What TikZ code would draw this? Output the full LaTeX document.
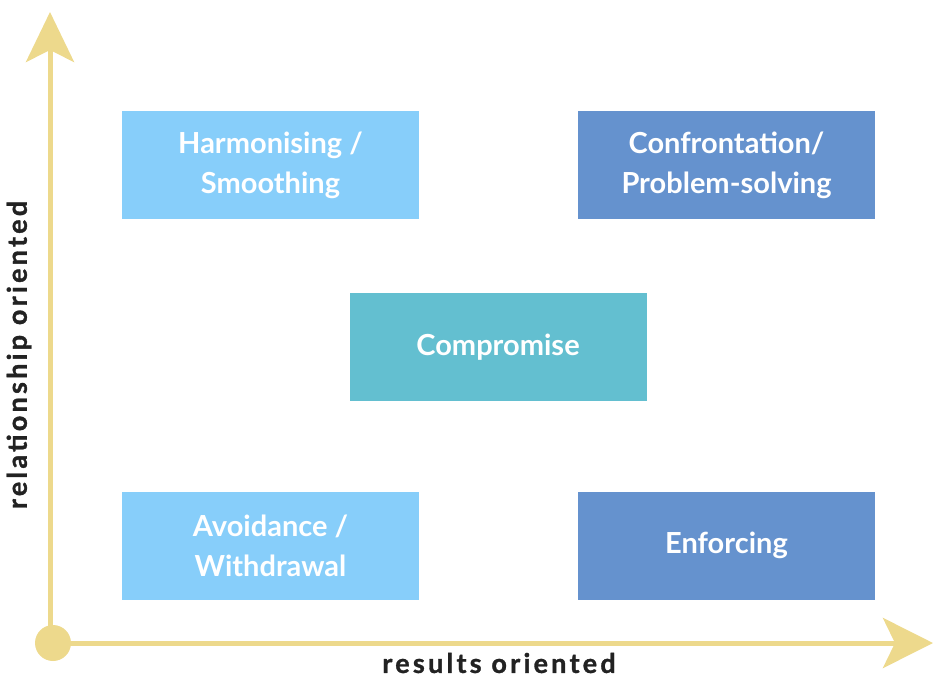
\documentclass[tikz,border=0pt]{standalone}
\usepackage{fontspec}
\setmainfont{Lato}
\newfontfamily\axisfont[LetterSpace=12,BoldFeatures={FakeBold=1.2}]{Lato}
\usetikzlibrary{arrows.meta}
\definecolor{axisc}{HTML}{EDD98C}
\definecolor{lightb}{HTML}{87CEFA}
\definecolor{darkb}{HTML}{6592CE}
\definecolor{tealb}{HTML}{63BFD0}
\definecolor{labc}{HTML}{222222}
\tikzset{
  quad/.style={minimum width=297pt, minimum height=108pt, inner sep=0pt,
    text=white, font=\bfseries\fontsize{29}{40}\selectfont, align=center},
  axislab/.style={text=labc, font=\axisfont\bfseries\fontsize{27}{30}\selectfont},
  axisline/.style={draw=axisc, line width=5pt}
}
\begin{document}
\begin{tikzpicture}[x=1pt,y=-1pt]
\useasboundingbox (0,0) rectangle (934,677);
\node[quad, fill=lightb] (harm) at (270.5,165) {Harmonising /\\Smoothing};
\node[quad, fill=darkb] (conf) at (726.5,165) {Confrontation/\\Problem-solving};
\node[quad, fill=tealb] (comp) at (498,347) {Compromise};
\node[quad, fill=lightb] (avoid) at (270.5,545.5) {Avoidance /\\Withdrawal};
\node[quad, fill=darkb] (enf) at (726.5,545.5) {Enforcing};
\coordinate (o) at (53,643);
\coordinate (ytip) at (50,12);
\coordinate (xtip) at (933,643);
\draw[axisline, -{Stealth[length=50pt,width=48pt,inset=12pt]}] (50,643) -- (ytip);
\draw[axisline, -{Stealth[length=50pt,width=50pt,inset=12pt]}] (53,643) -- (xtip);
\fill[axisc] (o) circle (18);
\node[axislab, rotate=90] (ylab) at (19,355) {relationship oriented};
\node[axislab] (xlab) at (499,663) {results oriented};
\end{tikzpicture}
\end{document}
